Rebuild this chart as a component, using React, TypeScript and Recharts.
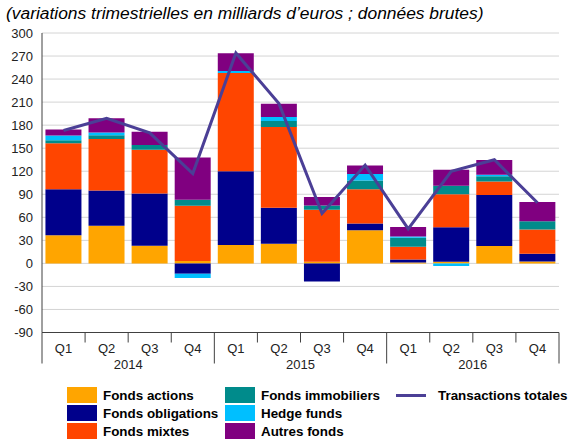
import { Bar, CartesianGrid, ComposedChart, Line, XAxis, YAxis } from "recharts";

const years = ["2014", "2015", "2016"];
const quarters = ["Q1", "Q2", "Q3", "Q4"];

const fondsActions = [36.5, 49, 23, 3, 24, 25.5, 2, 43, 1, 2, 22.5, 2.5];
const fondsObligations = [60, 46, 68, -13.5, 96, 47, -23.5, 9, 4, 45, 66.5, 10];
const fondsMixtes = [60, 67, 57, 72, 128, 105, 68, 44.5, 16.5, 43, 17.5, 31.5];
const fondsImmobiliers = [4, 5, 6, 8, 0, 8, 5.5, 11.5, 12, 11, 7, 11];
const hedgeFunds = [6, 3.5, 0, -5.5, 2.5, 5, 0, 8.5, 1.5, -3.5, 2, 0];
const autresFonds = [8, 18.5, 17.5, 55, 23, 17.5, 11, 11, 12.5, 21, 19, 25];
const transactionsTotales = [173, 189, 170, 117, 274, 208, 65, 128, 45, 120, 135, 79];

const yTicks = [-90, -60, -30, 0, 30, 60, 90, 120, 150, 180, 210, 240, 270, 300];

const series = [
  { key: "actions", name: "Fonds actions", color: "#FFA500" },
  { key: "obligations", name: "Fonds obligations", color: "#00008B" },
  { key: "mixtes", name: "Fonds mixtes", color: "#FF4500" },
  { key: "immobiliers", name: "Fonds immobiliers", color: "#008B8B" },
  { key: "hedge", name: "Hedge funds", color: "#00BFFF" },
  { key: "autres", name: "Autres fonds", color: "#800080" }
];
const lineColor = "#4B3F96";

const periods = years.flatMap((year) => quarters.map((q) => ({ year, q })));

const data = periods.map((p, i) => ({
  key: `${p.year} ${p.q}`,
  year: p.year,
  q: p.q,
  actions: fondsActions[i],
  obligations: fondsObligations[i],
  mixtes: fondsMixtes[i],
  immobiliers: fondsImmobiliers[i],
  hedge: hedgeFunds[i],
  autres: autresFonds[i],
  total: transactionsTotales[i]
}));

const FONT = "'Liberation Sans', Arial, sans-serif";
const PLOT_LEFT = 42;
const PLOT_RIGHT = 559;
const PLOT_TOP = 33;
const AXIS_Y = 332.5;
const BAND = (PLOT_RIGHT - PLOT_LEFT) / data.length;

const renderQuarterTick = (props: unknown) => {
  const { x, index } = props as { x: number; index: number };
  const row = data[index];
  const half = BAND / 2;
  const right = x + half;
  const yearEnd = index % 4 === 3;
  return (
    <g>
      {index === 0 && (
        <line x1={x - half} x2={x - half} y1={AXIS_Y} y2={AXIS_Y + 31} stroke="#404040" strokeWidth={1} />
      )}
      <line x1={right} x2={right} y1={AXIS_Y} y2={yearEnd ? AXIS_Y + 31 : AXIS_Y + 10} stroke="#404040" strokeWidth={1} />
      <text x={x} y={AXIS_Y + 20} textAnchor="middle" fontSize={13} fontFamily={FONT} fill="#222">
        {row?.q}
      </text>
      {index % 4 === 1 && (
        <text x={right} y={AXIS_Y + 36} textAnchor="middle" fontSize={13} fontFamily={FONT} fill="#222">
          {row?.year}
        </text>
      )}
    </g>
  );
};

function LegendBox() {
  const swatch = (color: string) => (
    <span style={{ display: "inline-block", width: 30, height: 16, background: color, marginRight: 6, flex: "none" }} />
  );
  const item = { display: "flex", alignItems: "center", height: 18 } as const;
  const cols = [series.slice(0, 3), series.slice(3, 6)];
  return (
    <div style={{ position: "absolute", left: 0, top: 386, width: 569, fontFamily: FONT, fontSize: 13.4, fontWeight: "bold", color: "#000", lineHeight: "15px" }}>
      {cols.map((col, ci) => (
        <div key={ci} style={{ position: "absolute", left: ci === 0 ? 67 : 225, top: 0 }}>
          {col.map((s) => (
            <div key={s.key} style={item}>
              {swatch(s.color)}
              <span style={{ whiteSpace: "nowrap" }}>{s.name}</span>
            </div>
          ))}
        </div>
      ))}
      <div style={{ position: "absolute", left: 396, top: 0, ...item }}>
        <span style={{ display: "inline-block", width: 30, height: 3, background: lineColor, marginRight: 12 }} />
        <span style={{ whiteSpace: "nowrap" }}>Transactions totales</span>
      </div>
    </div>
  );
}

export default function App() {
  return (
    <div style={{ position: "absolute", left: 0, top: 0, width: 569, height: 441, background: "#fff", overflow: "hidden" }}>
      <div style={{ position: "absolute", left: 6, top: 3, fontFamily: FONT, fontSize: 17.4, fontStyle: "italic", color: "#000", whiteSpace: "nowrap" }}>
        (variations trimestrielles en milliards d’euros ; données brutes)
      </div>
      <ComposedChart
        width={569}
        height={441}
        data={data}
        stackOffset="sign"
        barCategoryGap="8%"
        margin={{ top: PLOT_TOP, right: 569 - PLOT_RIGHT, bottom: 441 - AXIS_Y - 30, left: 0 }}
      >
        <CartesianGrid vertical={false} stroke="#d4d4d4" strokeWidth={1} />
        <XAxis
          dataKey="key"
          interval={0}
          height={30}
          tickLine={false}
          axisLine={{ stroke: "#404040", strokeWidth: 1 }}
          tick={renderQuarterTick}
        />
        <YAxis
          width={PLOT_LEFT}
          domain={[-90, 300]}
          ticks={yTicks}
          interval={0}
          tickLine={false}
          tickMargin={3}
          axisLine={{ stroke: "#404040", strokeWidth: 1 }}
          tick={{ fill: "#222", fontSize: 13, fontFamily: FONT }}
        />
        <YAxis
          yAxisId="frame"
          orientation="right"
          width={0}
          domain={[-90, 300]}
          tick={false}
          tickLine={false}
          axisLine={{ stroke: "#8c8c8c", strokeWidth: 1 }}
        />
        {series.map((s) => (
          <Bar key={s.key} dataKey={s.key} name={s.name} stackId="funds" fill={s.color} isAnimationActive={false} />
        ))}
        <Line
          type="linear"
          dataKey="total"
          name="Transactions totales"
          stroke={lineColor}
          strokeWidth={3}
          dot={false}
          isAnimationActive={false}
        />
      </ComposedChart>
      <LegendBox />
    </div>
  );
}
